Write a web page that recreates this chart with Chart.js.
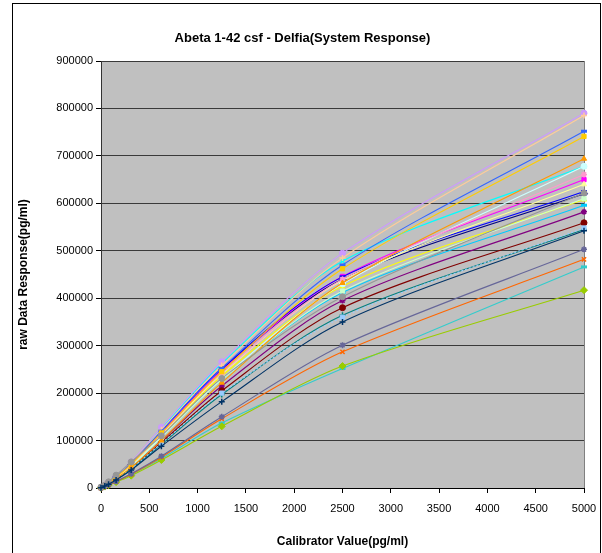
<!DOCTYPE html>
<html>
<head>
<meta charset="utf-8">
<script src="https://cdn.jsdelivr.net/npm/chart.js@4/dist/chart.umd.min.js"></script>
<style>
  html, body { margin: 0; padding: 0; background: #fff; }
  canvas { display: block; }
</style>
</head>
<body>
<canvas id="c" width="602" height="553"></canvas>
<script>
// Calibrator concentrations (pg/ml)
const calibrators = [0, 39.0625, 78.125, 156.25, 312.5, 625, 1250, 2500, 5000];

// Raw system response for each run, one value per calibrator
const run01 = [1000, 5000, 11000, 23000, 50000, 118000, 250000, 440000, 620000];
const run02 = [1000, 5000, 11000, 23000, 50000, 117000, 248000, 446000, 650000];
const run03 = [1000, 5000, 10000, 22000, 47000, 110000, 236000, 425000, 608000];
const run04 = [1000, 5500, 12000, 25000, 53000, 125000, 262000, 478000, 678000];
const run05 = [1000, 4500, 9500, 20000, 43000, 100000, 215000, 395000, 582000];
const run06 = [500, 4500, 9000, 19000, 42000, 96000, 205000, 380000, 559000];
const run07 = [500, 4000, 9000, 18500, 40000, 92000, 197000, 364000, 545000];
const run08 = [1000, 5000, 11000, 24000, 51000, 120000, 252000, 445000, 625000];
const run09 = [1000, 5000, 10000, 21000, 46000, 107000, 228000, 412000, 596000];
const run10 = [1000, 5000, 10000, 21000, 46000, 108000, 230000, 430000, 678000];
const run11 = [1000, 5000, 10000, 21000, 45000, 106000, 228000, 415000, 610000];
const run12 = [1000, 5000, 10500, 22000, 48000, 112000, 240000, 438000, 640000];
const run13 = [500, 4500, 9000, 19000, 41000, 94000, 200000, 360000, 548000];
const run14 = [1000, 5000, 11000, 23000, 49000, 114000, 242000, 440000, 661000];
const run15 = [1000, 5500, 12000, 25000, 55000, 128000, 266000, 495000, 790000];
const run16 = [1000, 5000, 11500, 24000, 53000, 123000, 258000, 485000, 785000];
const run17 = [1000, 5000, 11000, 24000, 52000, 120000, 252000, 470000, 752000];
const run18 = [500, 3000, 6500, 13000, 28000, 62000, 137000, 252000, 466000];
const run19 = [500, 3000, 6000, 12500, 26000, 59000, 130000, 257000, 417000];
const run20 = [1000, 5000, 11000, 23000, 50000, 116000, 245000, 462000, 741000];
const run21 = [1000, 4500, 9500, 20000, 43000, 100000, 222000, 432000, 694000];
const run22 = [500, 3000, 6500, 13500, 29000, 65000, 146000, 287000, 482000];
const run23 = [500, 3500, 7000, 14000, 30000, 67000, 150000, 301000, 503000];
const run24 = [2000, 6000, 13000, 27000, 55000, 110000, 231000, 403000, 622000];
const run25 = [500, 4000, 8000, 17000, 38000, 88000, 182000, 350000, 542000];

// Axis ticks
const xTicks = [0, 500, 1000, 1500, 2000, 2500, 3000, 3500, 4000, 4500, 5000];
const yTicks = [0, 100000, 200000, 300000, 400000, 500000, 600000, 700000, 800000, 900000];

// Line colour and marker for each run
const runs = [
  { values: run01, color: '#000080', marker: 'rectRot' },
  { values: run02, color: '#FF00FF', marker: 'rect' },
  { values: run03, color: '#FFFF00', marker: 'triangle' },
  { values: run04, color: '#00FFFF', marker: 'crossRot' },
  { values: run05, color: '#800080', marker: 'star' },
  { values: run06, color: '#800000', marker: 'circle' },
  { values: run07, color: '#008080', marker: 'cross' },
  { values: run08, color: '#0000FF', marker: 'line' },
  { values: run09, color: '#00CCFF', marker: 'line' },
  { values: run10, color: '#CCFFFF', marker: 'circle' },
  { values: run11, color: '#CCFFCC', marker: 'rect' },
  { values: run12, color: '#FFFF99', marker: 'triangle' },
  { values: run13, color: '#99CCFF', marker: 'rect', dash: [2, 2] },
  { values: run14, color: '#FF99CC', marker: 'star' },
  { values: run15, color: '#CC99FF', marker: 'circle' },
  { values: run16, color: '#FFCC99', marker: 'cross' },
  { values: run17, color: '#3366FF', marker: 'line' },
  { values: run18, color: '#33CCCC', marker: 'line' },
  { values: run19, color: '#99CC00', marker: 'rectRot' },
  { values: run20, color: '#FFCC00', marker: 'rect' },
  { values: run21, color: '#FF9900', marker: 'triangle' },
  { values: run22, color: '#FF6600', marker: 'crossRot' },
  { values: run23, color: '#666699', marker: 'star' },
  { values: run24, color: '#969696', marker: 'circle' },
  { values: run25, color: '#003366', marker: 'cross' }
];

const FONT = "'Liberation Sans', Arial, sans-serif";
const openMarkers = ['crossRot', 'star', 'cross', 'line'];

const datasets = runs.map((r, i) => ({
  data: calibrators.map((x, k) => ({ x: x, y: r.values[k] })),
  showLine: true,
  tension: 0.3,
  borderColor: r.color,
  backgroundColor: r.color,
  borderWidth: 1.1,
  borderDash: r.dash || [],
  pointStyle: r.marker,
  pointRadius: r.marker === 'rectRot' ? 3.5 : 3,
  pointBorderWidth: r.marker === 'line' ? 3 : (openMarkers.includes(r.marker) ? 1.5 : 1),
  pointBorderColor: r.color,
  pointBackgroundColor: r.color,
  order: runs.length - i,
  clip: 12
}));

// Chart frame, grey plot area and its right-hand border
const framePlugin = {
  id: 'frame',
  beforeDraw(chart) {
    const { ctx, chartArea: a } = chart;
    ctx.save();
    ctx.fillStyle = '#ffffff';
    ctx.fillRect(0, 0, chart.width, chart.height);
    ctx.fillStyle = '#C0C0C0';
    ctx.fillRect(a.left, a.top, a.right - a.left, a.bottom - a.top);
    ctx.strokeStyle = '#000000';
    ctx.lineWidth = 1;
    ctx.strokeRect(12.5, 3.5, 588, 600);
    ctx.restore();
  },
  beforeDatasetsDraw(chart) {
    const { ctx, chartArea: a } = chart;
    ctx.save();
    ctx.strokeStyle = '#808080';
    ctx.lineWidth = 1;
    ctx.beginPath();
    ctx.moveTo(Math.round(a.right) + 0.5, a.top);
    ctx.lineTo(Math.round(a.right) + 0.5, a.bottom);
    ctx.stroke();
    ctx.restore();
  }
};

new Chart(document.getElementById('c'), {
  type: 'scatter',
  data: { datasets },
  options: {
    responsive: false,
    animation: false,
    devicePixelRatio: 1,
    layout: { padding: { left: 21, right: 18, top: 0, bottom: 0 } },
    plugins: {
      legend: { display: false },
      tooltip: { enabled: false },
      title: {
        display: true,
        text: 'Abeta 1-42 csf - Delfia(System Response)',
        color: '#000',
        font: { family: FONT, size: 13, weight: 'bold' },
        padding: { top: 31, bottom: 14.4 }
      }
    },
    scales: {
      x: {
        type: 'linear',
        min: 0,
        max: 5000,
        afterBuildTicks: s => { s.ticks = xTicks.map(v => ({ value: v })); },
        afterFit: s => { s.height = 65; s.paddingLeft = 0; s.paddingRight = 0; },
        ticks: {
          color: '#000',
          font: { family: FONT, size: 11 },
          padding: 9,
          maxRotation: 0,
          autoSkip: false,
          callback: v => String(v)
        },
        grid: {
          drawOnChartArea: false,
          drawTicks: true,
          tickLength: 5,
          tickColor: '#000',
          tickWidth: 1
        },
        border: { color: '#000', width: 1 },
        title: {
          display: true,
          text: 'Calibrator Value(pg/ml)',
          color: '#000',
          font: { family: FONT, size: 12, weight: 'bold' },
          padding: { top: 0, bottom: 4 }
        }
      },
      y: {
        type: 'linear',
        min: 0,
        max: 900000,
        afterBuildTicks: s => { s.ticks = yTicks.map(v => ({ value: v })); },
        afterFit: s => { s.width = 80; },
        ticks: {
          color: '#000',
          font: { family: FONT, size: 11 },
          padding: 3,
          autoSkip: false,
          callback: v => String(v)
        },
        grid: {
          color: '#3a3a3a',
          lineWidth: 1,
          drawTicks: true,
          tickLength: 5,
          tickColor: '#000'
        },
        border: { color: '#333', width: 1 },
        title: {
          display: true,
          text: 'raw Data Response(pg/ml)',
          color: '#000',
          font: { family: FONT, size: 12, weight: 'bold' },
          padding: { top: -5, bottom: 0 }
        }
      }
    }
  },
  plugins: [framePlugin]
});
</script>
</body>
</html>
